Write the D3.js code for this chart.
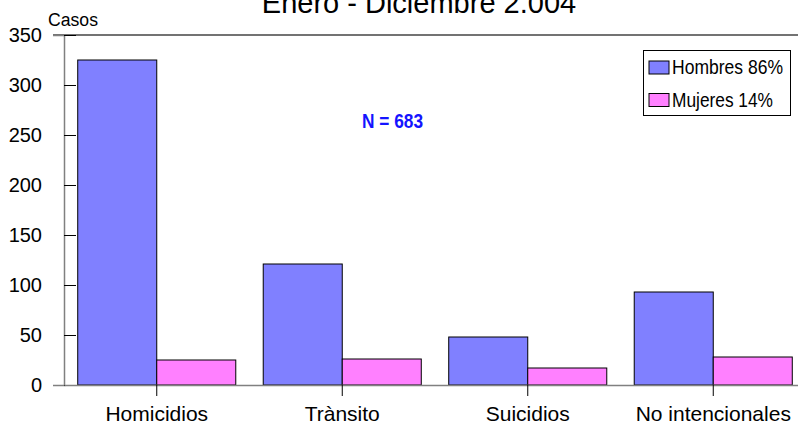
<!DOCTYPE html>
<html>
<head>
<meta charset="utf-8">
<script src="https://cdn.jsdelivr.net/npm/d3@7"></script>
<style>
  body { margin: 0; background: #fff; }
  svg { display: block; font-family: "Liberation Sans", Arial, sans-serif; }
</style>
</head>
<body>
<script>
const categories = ['Homicidios', 'Trànsito', 'Suicidios', 'No intencionales'];
const series     = ['Hombres', 'Mujeres'];
const legendText = ['Hombres 86%', 'Mujeres 14%'];
const hombres    = [325, 121, 48, 93];
const mujeres    = [25, 26, 17, 28];
const yTicks     = [0, 50, 100, 150, 200, 250, 300, 350];

const width  = 798;
const height = 425;
const colors = { Hombres: '#8080ff', Mujeres: '#ff80ff' };

const svg = d3.select('body').append('svg')
  .attr('width', width)
  .attr('height', height);

// plot area runs past the right edge of the picture (cropped)
const x0 = d3.scaleBand()
  .domain(categories)
  .range([64, 806])
  .paddingInner(0.148)
  .paddingOuter(0.074);

const x1 = d3.scaleBand()
  .domain(series)
  .range([0, x0.bandwidth()]);

const y = d3.scaleLinear()
  .domain([0, 350])
  .range([385, 35]);

const data = categories.map((c, i) => ({cat: c, Hombres: hombres[i], Mujeres: mujeres[i]}));

// title, cut off at the top
svg.append('text')
  .attr('x', 419).attr('y', 13)
  .attr('text-anchor', 'middle')
  .style('font-size', '29px')
  .text('Enero - Diciembre 2.004');

// top border line
svg.append('line')
  .attr('x1', 53).attr('x2', 806)
  .attr('y1', y(350)).attr('y2', y(350))
  .attr('stroke', '#444').attr('stroke-width', 1.5);

// bars
const groups = svg.selectAll('.grp')
  .data(data)
  .enter().append('g')
  .attr('class', 'grp')
  .attr('transform', d => 'translate(' + x0(d.cat) + ',0)');

groups.selectAll('rect')
  .data(d => series.map(s => ({key: s, value: d[s]})))
  .enter().append('rect')
  .attr('x', d => x1(d.key))
  .attr('y', d => y(d.value))
  .attr('width', x1.bandwidth())
  .attr('height', d => y(0) - y(d.value))
  .attr('fill', d => colors[d.key])
  .attr('stroke', '#000')
  .attr('stroke-width', 1);

// y axis
const yAxis = svg.append('g')
  .attr('transform', 'translate(64,0)')
  .call(d3.axisLeft(y).tickValues(yTicks).tickSize(11).tickPadding(11));
yAxis.select('.domain').attr('stroke', '#808080').attr('stroke-width', 1.5);
yAxis.selectAll('.tick line').attr('x2', 12).attr('stroke', '#000');
yAxis.selectAll('.tick text')
  .style('font-size', '20px')
  .attr('fill', '#000');

// x axis
const xAxis = svg.append('g')
  .attr('transform', 'translate(0,' + y(0) + ')')
  .call(d3.axisBottom(x0).tickSizeInner(11).tickSizeOuter(0).tickPadding(10));
xAxis.select('.domain').attr('stroke', '#808080').attr('stroke-width', 1.5);
xAxis.selectAll('.tick line').attr('stroke', '#000');
xAxis.selectAll('.tick text')
  .style('font-size', '21px')
  .attr('fill', '#000');

// y axis title
svg.append('text')
  .attr('x', 48).attr('y', 26)
  .style('font-size', '18px')
  .attr('textLength', 50)
  .attr('lengthAdjust', 'spacingAndGlyphs')
  .text('Casos');

// N label
svg.append('text')
  .attr('x', 362).attr('y', 128)
  .style('font-size', '20px')
  .style('font-weight', 'bold')
  .attr('textLength', 61)
  .attr('lengthAdjust', 'spacingAndGlyphs')
  .attr('fill', '#1414ff')
  .text('N = 683');

// legend
const legend = svg.append('g');
legend.append('rect')
  .attr('x', 643.5).attr('y', 50.5)
  .attr('width', 147).attr('height', 65)
  .attr('fill', '#fff')
  .attr('stroke', '#000');

const items = legend.selectAll('.item')
  .data(series)
  .enter().append('g')
  .attr('class', 'item')
  .attr('transform', (d, i) => 'translate(649,' + (61 + i * 32.5) + ')');

items.append('rect')
  .attr('width', 20).attr('height', 13)
  .attr('fill', d => colors[d])
  .attr('stroke', '#000');

items.append('text')
  .attr('x', 23).attr('y', 13)
  .style('font-size', '21px')
  .attr('textLength', (d, i) => i === 0 ? 111 : 101)
  .attr('lengthAdjust', 'spacingAndGlyphs')
  .text((d, i) => legendText[i]);
</script>
</body>
</html>
